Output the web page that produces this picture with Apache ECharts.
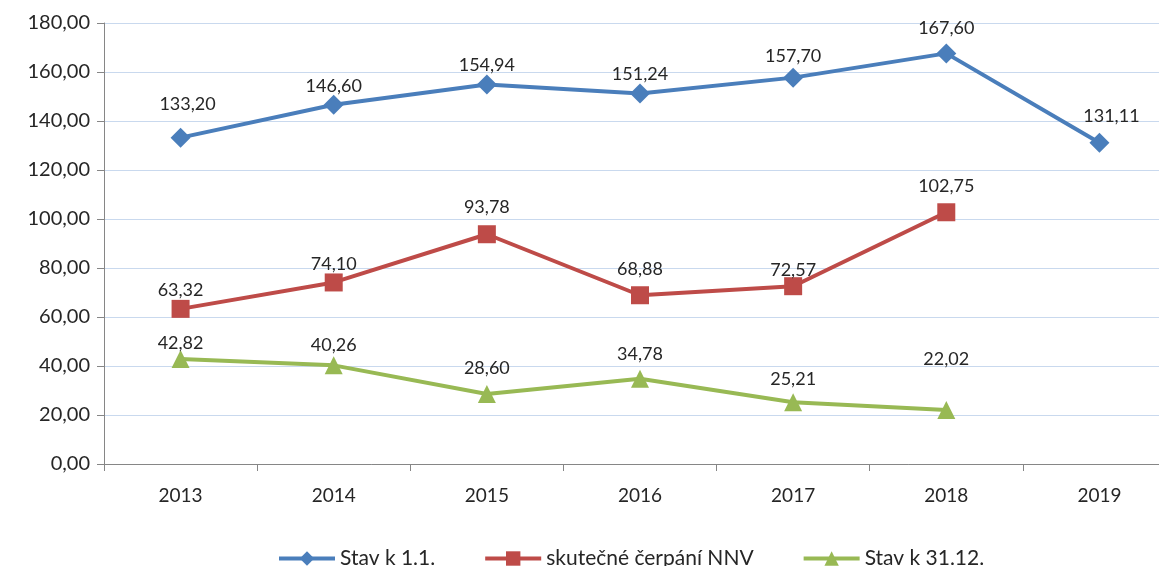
<!DOCTYPE html>
<html><head><meta charset="utf-8">
<script src="https://cdn.jsdelivr.net/npm/echarts@6/dist/echarts.min.js"></script>
<style>html,body{margin:0;padding:0;background:#fff;overflow:hidden;width:1159px;height:566px;}#c{width:1176px;height:566px;}</style>
</head><body><div id="c"></div>
<script>
const categories = ['2013','2014','2015','2016','2017','2018','2019'];
const stavK11 = [133.20, 146.60, 154.94, 151.24, 157.70, 167.60, 131.11];
const cerpaniNNV = [63.32, 74.10, 93.78, 68.88, 72.57, 102.75, null];
const stavK3112 = [42.82, 40.26, 28.60, 34.78, 25.21, 22.02, null];
const seriesNames = ['Stav k 1.1.', 'skutečné čerpání NNV', 'Stav k 31.12.'];
const yTicks = {min: 0, max: 180, interval: 20};

// label nudges (styling only)
const nudgeBlue = [[7,-14],[0,0],[0,0],[0,0],[0,-2],[0,-6],[12,-8]];
const nudgeRed = [[0,-1],[0,0],[0,-9],[0,-8],[0,2],[0,-8],[0,0]];
const nudgeGreen = [[0,2],[0,-2],[0,-8],[0,-7],[0,-5],[0,-33],[0,0]];

const fmt = v => v.toFixed(2).replace('.', ',');
const FONT = 'Lato';

function mk(vals, nudges) {
  return vals.map((v, i) => ({value: v, label: {offset: nudges[i]}}));
}
function ser(name, vals, nudges, color, symbol, size) {
  return {
    name, type: 'line', data: mk(vals, nudges), symbol, symbolSize: size,
    lineStyle: {color, width: 4}, itemStyle: {color},
    label: {show: true, position: 'top', distance: 0, fontFamily: FONT, fontSize: 18, color: '#262626',
            formatter: p => fmt(p.value)},
    animation: false, z: 3
  };
}

const chart = echarts.init(document.getElementById('c'));
chart.setOption({
  backgroundColor: '#fff',
  animation: false,
  grid: {left: 104, right: 0, top: 23, bottom: 102},
  legend: {
    bottom: -8, left: 272, itemWidth: 56, itemHeight: 18, itemGap: 48,
    lineStyle: {width: 4},
    textStyle: {fontFamily: FONT, fontSize: 21, color: '#262626'},
    data: seriesNames
  },
  xAxis: {
    type: 'category', data: categories, boundaryGap: true,
    axisLine: {lineStyle: {color: '#868686', width: 1}},
    axisTick: {show: true, length: 7, lineStyle: {color: '#868686'}},
    axisLabel: {fontFamily: FONT, fontSize: 19, color: '#262626', margin: 22}
  },
  yAxis: {
    type: 'value', min: yTicks.min, max: yTicks.max, interval: yTicks.interval,
    axisLine: {show: true, lineStyle: {color: '#868686', width: 1}},
    axisTick: {show: true, length: 7, lineStyle: {color: '#868686'}},
    axisLabel: {fontFamily: FONT, fontSize: 20, color: '#262626', margin: 14, formatter: v => fmt(v)},
    splitLine: {lineStyle: {color: '#c9d9ee', width: 1}}
  },
  series: [
    ser(seriesNames[0], stavK11, nudgeBlue, '#4a7ebb', 'diamond', 20),
    ser(seriesNames[1], cerpaniNNV, nudgeRed, '#be4b48', 'rect', 18),
    ser(seriesNames[2], stavK3112, nudgeGreen, '#98b954', 'triangle', 18)
  ]
});
</script></body></html>
